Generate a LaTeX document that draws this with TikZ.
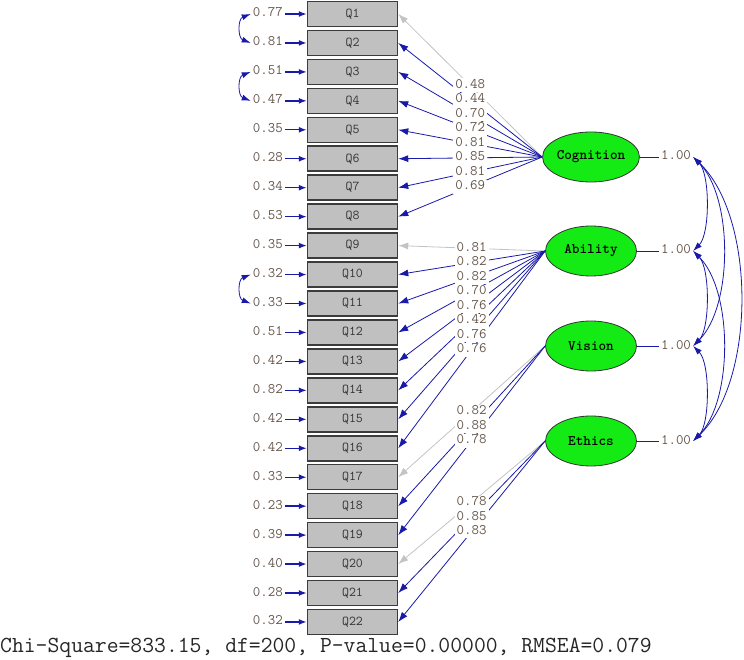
\documentclass[tikz,border=0pt]{standalone}
\usepackage{fontspec}
\usetikzlibrary{arrows.meta,shapes.geometric}
\definecolor{pathblue}{RGB}{25,25,170}
\definecolor{pathgray}{RGB}{195,195,195}
\definecolor{boxgray}{RGB}{192,192,192}
\definecolor{boxedge}{RGB}{60,60,60}
\definecolor{latgreen}{RGB}{20,235,20}
\definecolor{numcol}{RGB}{100,85,75}
\begin{document}
\begin{tikzpicture}[x=1pt,y=-1pt,
  obs/.style={draw=boxedge, line width=1.5pt, fill=boxgray, minimum width=90pt, minimum height=25pt, inner sep=0pt, font=\ttfamily\fontsize{13.5}{13.5}\selectfont, text=black!80},
  lat/.style={ellipse, draw=black!80, line width=0.8pt, fill=latgreen, minimum width=91pt, minimum height=50pt, inner sep=0pt, font=\ttfamily\bfseries\fontsize{14.5}{14.5}\selectfont},
  num/.style={font=\ttfamily\fontsize{14.5}{14.5}\selectfont, text=numcol, inner xsep=2pt, inner ysep=1pt, text height=9pt, text depth=3pt},
  lbl/.style={num, fill=white},
  load/.style={draw=pathblue, line width=0.8pt, -{Latex[length=10pt,width=7pt]}},
  fixed/.style={draw=pathgray, line width=0.8pt, -{Latex[length=10pt,width=7pt]}},
  err/.style={draw=pathblue, line width=1.4pt, -{Latex[length=8pt,width=6pt]}},
  cov/.style={draw=pathblue, line width=0.8pt, {Latex[length=9pt,width=6pt]}-{Latex[length=9pt,width=6pt]}},
  link/.style={draw=pathblue, line width=0.8pt}
]
\useasboundingbox (0,0) rectangle (744,660);

% observed variables and error variances
\foreach \i/\e in {1/0.77,2/0.81,3/0.51,4/0.47,5/0.35,6/0.28,7/0.34,8/0.53,9/0.35,10/0.32,11/0.33,12/0.51,13/0.42,14/0.82,15/0.42,16/0.42,17/0.33,18/0.23,19/0.39,20/0.40,21/0.28,22/0.32}{
  \node[obs] (q\i) at (352.5,{14+(\i-1)*28.95}) {Q\i};
  \node[num, anchor=east] (e\i) at (285,{14+(\i-1)*28.95}) {\e};
  \draw[err] (e\i.east) -- (q\i.west);
}

% error covariances
\draw[cov] (e1.west) .. controls +(-13,5) and +(-13,-5) .. (e2.west);
\draw[cov] (e3.west) .. controls +(-13,5) and +(-13,-5) .. (e4.west);
\draw[cov] (e10.west) .. controls +(-13,5) and +(-13,-5) .. (e11.west);

% latent variables
\node[lat] (cog) at (591,157) {Cognition};
\node[lat] (abi) at (591,251) {Ability};
\node[lat] (vis) at (591,346) {Vision};
\node[lat] (eth) at (591,441) {Ethics};

% variances
\node[num] (r1) at (676,157) {1.00};
\node[num] (r2) at (676,251) {1.00};
\node[num] (r3) at (676,346) {1.00};
\node[num] (r4) at (676,441) {1.00};
\draw[link] (cog.east) -- (r1.west);
\draw[link] (abi.east) -- (r2.west);
\draw[link] (vis.east) -- (r3.west);
\draw[link] (eth.east) -- (r4.west);

% covariances between latent variables
\draw[cov] (r1.east) .. controls +(17,17) and +(17,-17) .. (r2.east);
\draw[cov] (r2.east) .. controls +(17,17) and +(17,-17) .. (r3.east);
\draw[cov] (r3.east) .. controls +(17,17) and +(17,-17) .. (r4.east);
\draw[cov] (r1.east) .. controls +(40,40) and +(40,-40) .. (r3.east);
\draw[cov] (r2.east) .. controls +(40,40) and +(40,-40) .. (r4.east);
\draw[cov] (r1.east) .. controls +(63,60) and +(63,-60) .. (r4.east);

% loadings
\def\loadings{cog/1/0.48/fixed,cog/2/0.44/load,cog/3/0.70/load,cog/4/0.72/load,cog/5/0.81/load,cog/6/0.85/load,cog/7/0.81/load,cog/8/0.69/load,
abi/9/0.81/fixed,abi/10/0.82/load,abi/11/0.82/load,abi/12/0.70/load,abi/13/0.76/load,abi/14/0.42/load,abi/15/0.76/load,abi/16/0.76/load,
vis/17/0.82/fixed,vis/18/0.88/load,vis/19/0.78/load,
eth/20/0.78/fixed,eth/21/0.85/load,eth/22/0.83/load}
\foreach \l/\i/\v/\s in \loadings{
  \draw[\s] (\l.west) -- (q\i.east);
}
\foreach \l/\i/\v/\s in \loadings{
  \path (\l.west) -- (q\i.east) node[midway, lbl] {\v};
}

% fit statistics
\node[anchor=west, inner sep=0pt, font=\ttfamily\fontsize{23}{24}\selectfont, text=black!85] (fit) at (0,648) {Chi-Square=833.15, df=200, P-value=0.00000, RMSEA=0.079};
\end{tikzpicture}
\end{document}
